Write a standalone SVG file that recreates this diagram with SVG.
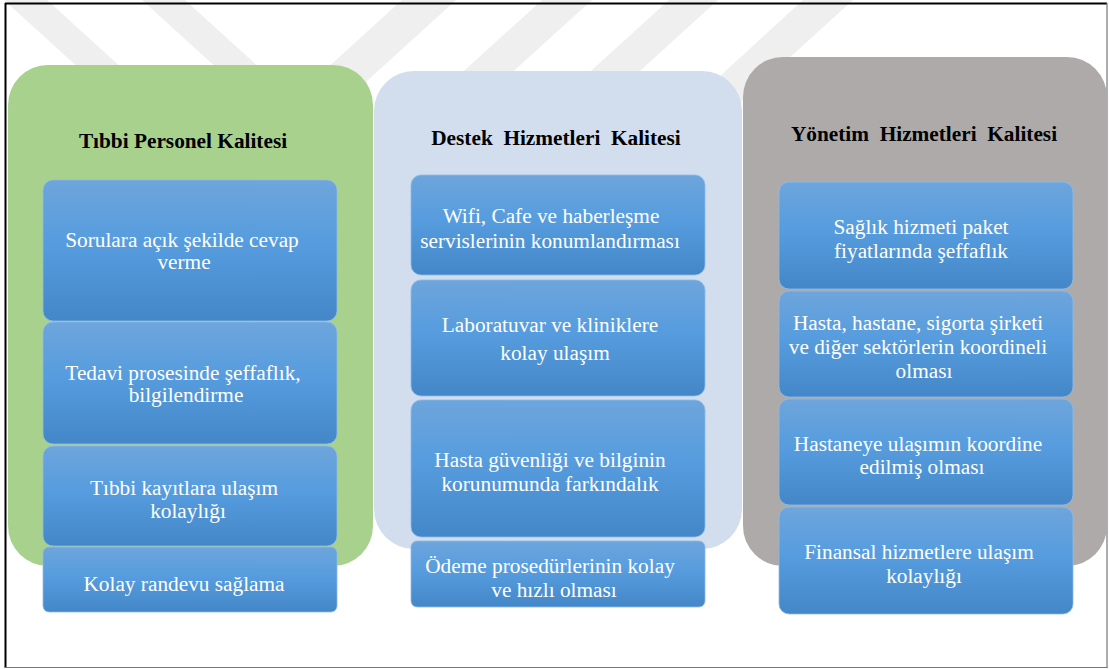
<svg xmlns="http://www.w3.org/2000/svg" width="1109" height="669" viewBox="0 0 1109 669">
  <defs>
    <linearGradient id="boxFill" x1="0" y1="0" x2="0" y2="1">
      <stop offset="0" stop-color="#6EA5DC"/>
      <stop offset="0.45" stop-color="#569CDE"/>
      <stop offset="1" stop-color="#4487C8"/>
    </linearGradient>
    <style>
      .panel-title { font-family: "Liberation Serif", "Times New Roman", serif; font-weight: bold; font-size: 21.3px; fill: #000; text-anchor: middle; white-space: pre; }
      .item { fill: url(#boxFill); stroke: #8DBBE6; stroke-width: 0.8; }
      .item-text { font-family: "Liberation Serif", "Times New Roman", serif; font-size: 21.3px; fill: #FFFFFF; text-anchor: middle; }
      .band { fill: #EFEFEF; }
    </style>
  </defs>

  <!-- background -->
  <rect x="0" y="0" width="1109" height="669" fill="#FFFFFF"/>

  <!-- faint chevron bands behind the panels -->
  <g id="background-bands">
    <polygon class="band" points="4,0 47,0 179,120 136,120"/>
    <polygon class="band" points="142,0 185,0 317,120 274,120"/>
    <polygon class="band" points="402,0 456,0 324,120 270,120"/>
    <polygon class="band" points="542,0 592,0 460,120 410,120"/>
    <polygon class="band" points="669,0 718,0 586,120 537,120"/>
    <polygon class="band" points="803,0 853,0 721,120 672,120"/>
  </g>

  <!-- outer frame -->
  <g id="frame" fill="none">
    <line x1="5" y1="3.5" x2="1107" y2="3.5" stroke="#000" stroke-width="2"/>
    <line x1="5.5" y1="3" x2="5.5" y2="668" stroke="#000" stroke-width="2"/>
    <line x1="1107" y1="3" x2="1107" y2="668" stroke="#777" stroke-width="1.2"/>
    <line x1="5" y1="667.5" x2="1107.5" y2="667.5" stroke="#777" stroke-width="1.2"/>
  </g>

  <!-- panel 1: medical staff quality -->
  <g id="panel-tibbi">
    <rect x="8" y="65" width="365" height="501" rx="40" ry="40" fill="#A9D18E"/>
    <text class="panel-title" x="183" y="148">Tıbbi Personel Kalitesi</text>
  </g>

  <!-- panel 2: support services quality -->
  <g id="panel-destek">
    <rect x="374" y="71" width="368" height="478" rx="40" ry="40" fill="#D2DDEE"/>
    <text class="panel-title" x="556" y="145">Destek  Hizmetleri  Kalitesi</text>
  </g>

  <!-- panel 3: management services quality -->
  <g id="panel-yonetim">
    <rect x="743" y="57" width="364" height="509" rx="40" ry="40" fill="#AEAAA9"/>
    <text class="panel-title" x="924" y="141">Yönetim  Hizmetleri  Kalitesi</text>
  </g>

  <!-- items of panel 1 -->
  <g id="item-sorulara">
    <rect class="item" x="43" y="180" width="294" height="141" rx="10"/>
    <text class="item-text" x="182" y="247">Sorulara açık şekilde cevap</text>
    <text class="item-text" x="184" y="269">verme</text>
  </g>
  <g id="item-tedavi">
    <rect class="item" x="43" y="322" width="294" height="122" rx="10"/>
    <text class="item-text" x="183" y="380">Tedavi prosesinde şeffaflık,</text>
    <text class="item-text" x="186" y="402">bilgilendirme</text>
  </g>
  <g id="item-kayitlar">
    <rect class="item" x="43" y="446" width="294" height="100" rx="10"/>
    <text class="item-text" x="184" y="495">Tıbbi kayıtlara ulaşım</text>
    <text class="item-text" x="188" y="518">kolaylığı</text>
  </g>
  <g id="item-randevu">
    <rect class="item" x="43" y="547" width="294" height="65" rx="6"/>
    <text class="item-text" x="184" y="591">Kolay randevu sağlama</text>
  </g>

  <!-- items of panel 2 -->
  <g id="item-wifi">
    <rect class="item" x="411" y="175" width="294" height="100" rx="10"/>
    <text class="item-text" x="551" y="223">Wifi, Cafe ve haberleşme</text>
    <text class="item-text" x="550" y="248">servislerinin konumlandırması</text>
  </g>
  <g id="item-laboratuvar">
    <rect class="item" x="411" y="280" width="294" height="116" rx="10"/>
    <text class="item-text" x="550" y="332">Laboratuvar ve kliniklere</text>
    <text class="item-text" x="555" y="360">kolay ulaşım</text>
  </g>
  <g id="item-guvenlik">
    <rect class="item" x="411" y="400" width="294" height="137" rx="10"/>
    <text class="item-text" x="550" y="467">Hasta güvenliği ve bilginin</text>
    <text class="item-text" x="550" y="491">korunumunda farkındalık</text>
  </g>
  <g id="item-odeme">
    <rect class="item" x="411" y="541" width="294" height="66" rx="6"/>
    <text class="item-text" x="550" y="573">Ödeme prosedürlerinin kolay</text>
    <text class="item-text" x="554" y="597">ve hızlı olması</text>
  </g>

  <!-- items of panel 3 -->
  <g id="item-fiyat">
    <rect class="item" x="779" y="182" width="294" height="107" rx="10"/>
    <text class="item-text" x="921" y="234">Sağlık hizmeti paket</text>
    <text class="item-text" x="921" y="258">fiyatlarında şeffaflık</text>
  </g>
  <g id="item-koordinasyon">
    <rect class="item" x="779" y="291" width="294" height="106" rx="10"/>
    <text class="item-text" x="918" y="330">Hasta, hastane, sigorta şirketi</text>
    <text class="item-text" x="918" y="354">ve diğer sektörlerin koordineli</text>
    <text class="item-text" x="924" y="378">olması</text>
  </g>
  <g id="item-ulasim">
    <rect class="item" x="779" y="399" width="294" height="106" rx="10"/>
    <text class="item-text" x="918" y="451">Hastaneye ulaşımın koordine</text>
    <text class="item-text" x="922" y="474">edilmiş olması</text>
  </g>
  <g id="item-finansal">
    <rect class="item" x="779" y="507" width="294" height="107" rx="10"/>
    <text class="item-text" x="919" y="559">Finansal hizmetlere ulaşım</text>
    <text class="item-text" x="924" y="583">kolaylığı</text>
  </g>
</svg>
